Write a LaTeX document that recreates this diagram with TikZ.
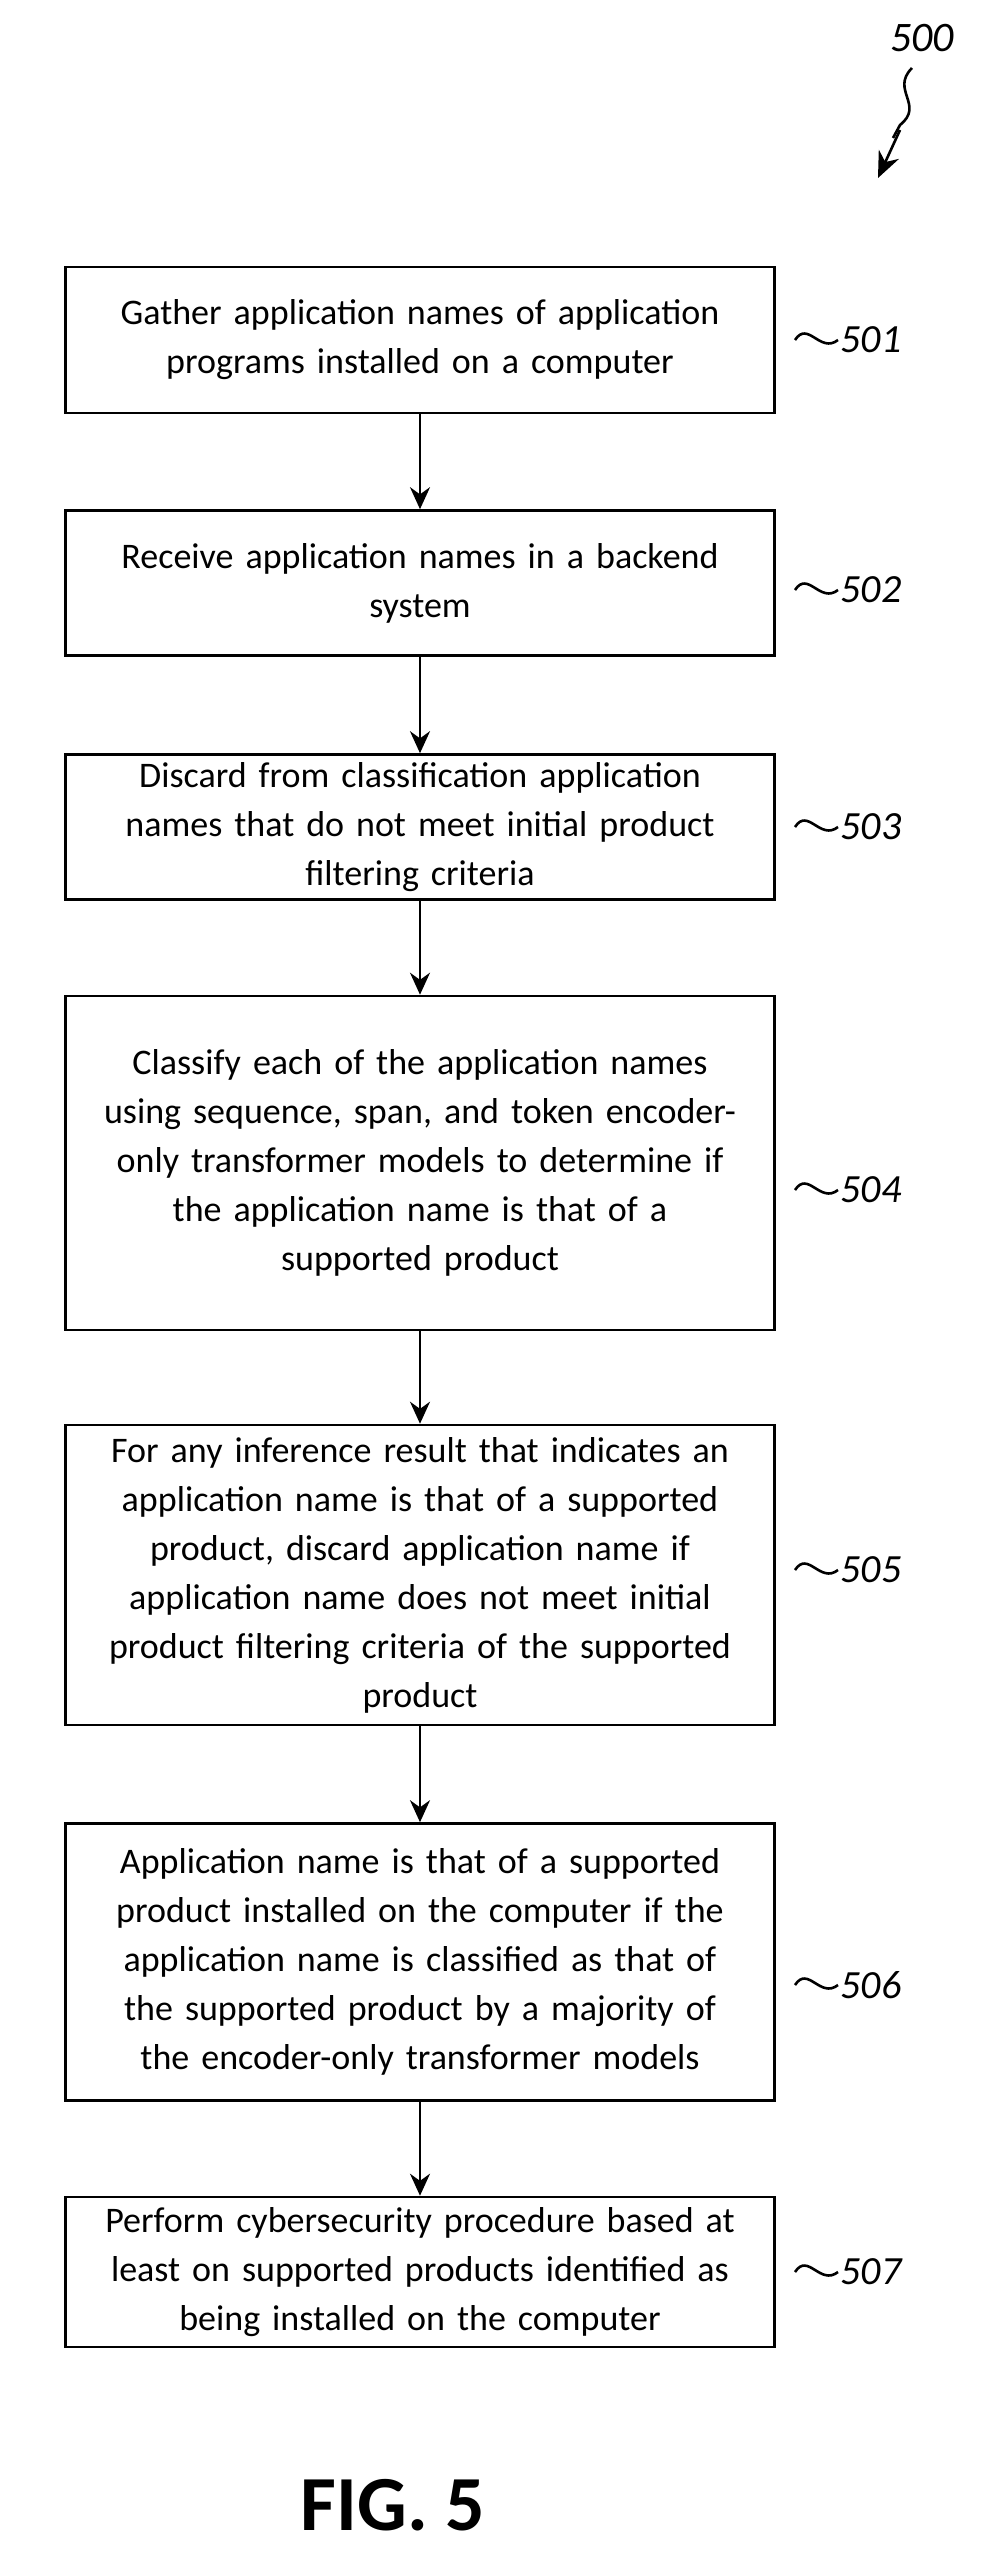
\documentclass[tikz,border=0pt]{standalone}
\usepackage{fontspec}
\setmainfont{Carlito}
\usetikzlibrary{positioning,arrows.meta}
\begin{document}
\begin{tikzpicture}[x=1pt,y=-1pt,>=latex,line width=2.6pt,
	stepbox/.style={draw,rectangle,minimum width=709pt,text width=700pt,align=center,
		font=\fontsize{36}{49}\selectfont},
	reflabel/.style={font=\fontsize{40}{44}\selectfont\itshape,anchor=west},
	flow/.style={->,>={Stealth[length=22pt,width=20pt]}}]
	\useasboundingbox (0,0) rectangle (983,2565);
	
	% blokkok
	\node[stepbox,minimum height=146pt] (s501) at (420,340) {Gather application names of application\\programs installed on a computer};
	\node[stepbox,minimum height=145pt] (s502) at (420,583) {Receive application names in a backend\\system};
	\node[stepbox,minimum height=145pt] (s503) at (420,827) {Discard from classification application\\names that do not meet initial product\\filtering criteria};
	\node[stepbox,minimum height=334pt] (s504) at (420,1163) {Classify each of the application names\\using sequence, span, and token encoder-\\only transformer models to determine if\\the application name is that of a\\supported product};
	\node[stepbox,minimum height=300pt] (s505) at (420,1575) {For any inference result that indicates an\\application name is that of a supported\\product, discard application name if\\application name does not meet initial\\product filtering criteria of the supported\\product};
	\node[stepbox,minimum height=277pt] (s506) at (420,1962) {Application name is that of a supported\\product installed on the computer if the\\application name is classified as that of\\the supported product by a majority of\\the encoder-only transformer models};
	\node[stepbox,minimum height=150pt] (s507) at (420,2272) {Perform cybersecurity procedure based at\\least on supported products identified as\\being installed on the computer};
	
	% nyilak
	\foreach \a/\b in {s501/s502,s502/s503,s503/s504,s504/s505,s505/s506,s506/s507}
		\draw[flow] (\a) -- (\b);
	
	% hivatkozasi szamok
	\foreach \n/\y in {501/340,502/590,503/827,504/1190,505/1570,506/1985,507/2272}{
		\draw (795,\y) .. controls (808,\y-20) and (820,\y+14) .. (838,\y);
		\node[reflabel] (l\n) at (836,\y) {\n};
	}
	
	% abra szama
	\node[font=\fontsize{42}{44}\selectfont\itshape] (fignum) at (922,38) {500};
	\coordinate (tip) at (878,178);
	\draw (912,68) .. controls (890,90) and (925,105) .. (900,125) -- (893,138);
	\draw[->,>={Stealth[length=26pt,width=22pt]}] (900,130) -- (tip);
	\node[font=\fontsize{78}{84}\selectfont\bfseries] (fig) at (393,2505) {FIG. 5};
\end{tikzpicture}
\end{document}
